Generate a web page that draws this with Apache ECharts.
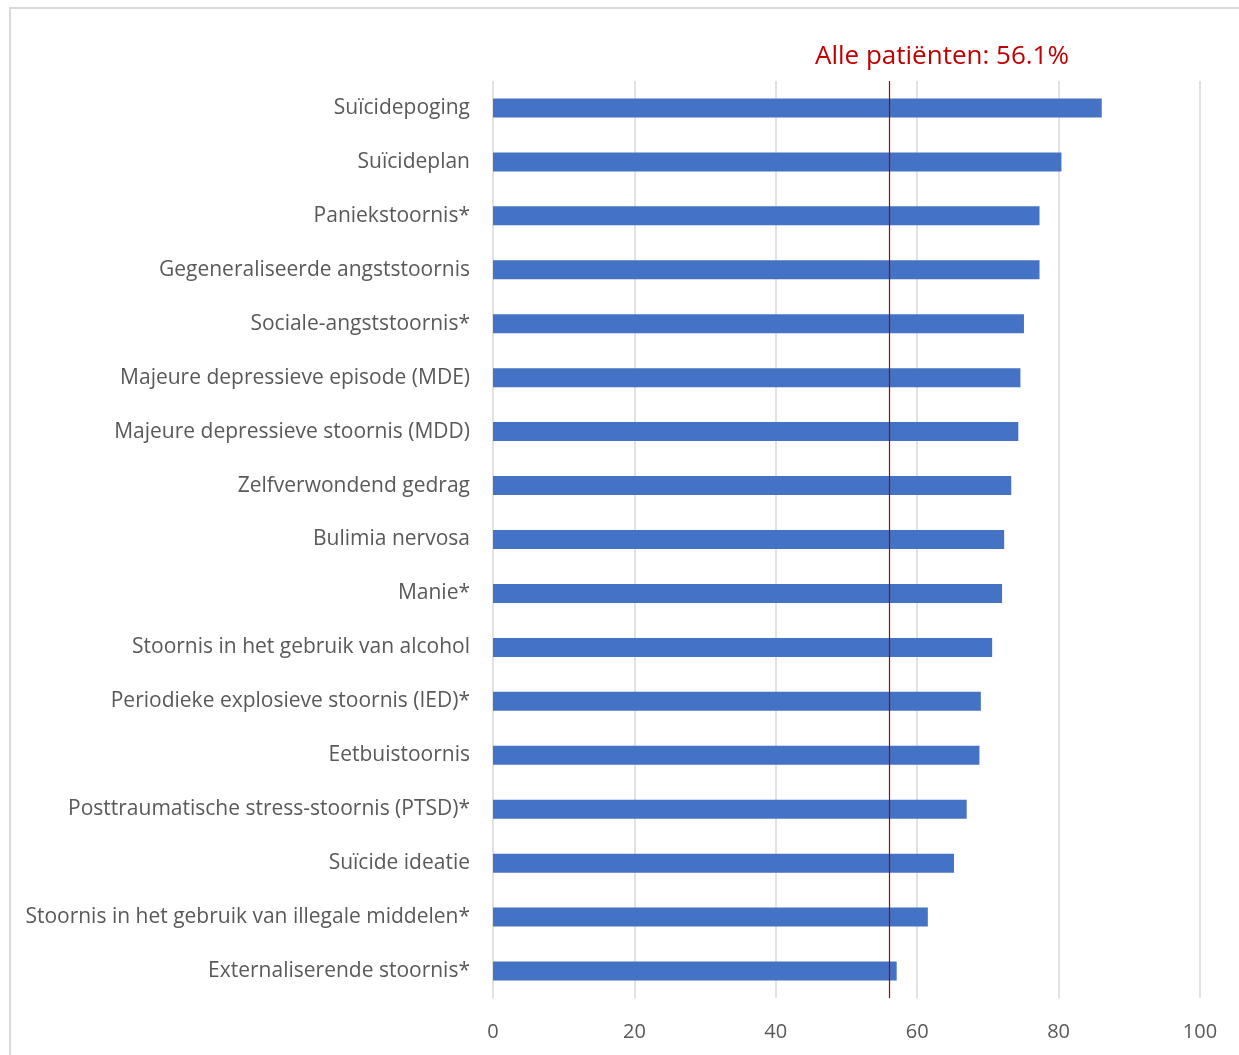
<!DOCTYPE html>
<html>
<head>
<meta charset="utf-8">
<script src="https://cdn.jsdelivr.net/npm/echarts@6/dist/echarts.min.js"></script>
<style>
  html, body { margin: 0; padding: 0; background: #fff; }
  #frame { position: absolute; left: 9px; top: 7px; width: 1300px; height: 1100px;
           border-left: 2px solid #d9d9d9; border-top: 2px solid #d9d9d9; box-sizing: border-box; }
  #chart { position: absolute; left: 0; top: 0; width: 1239px; height: 1055px; }
</style>
</head>
<body>
<div id="frame"></div>
<div id="chart"></div>
<script>
// Categories, top to bottom
const categories = [
  'Suïcidepoging',
  'Suïcideplan',
  'Paniekstoornis*',
  'Gegeneraliseerde angststoornis',
  'Sociale-angststoornis*',
  'Majeure depressieve episode (MDE)',
  'Majeure depressieve stoornis (MDD)',
  'Zelfverwondend gedrag',
  'Bulimia nervosa',
  'Manie*',
  'Stoornis in het gebruik van alcohol',
  'Periodieke explosieve stoornis (IED)*',
  'Eetbuistoornis',
  'Posttraumatische stress-stoornis (PTSD)*',
  'Suïcide ideatie',
  'Stoornis in het gebruik van illegale middelen*',
  'Externaliserende stoornis*'
];

// Percentage per category
const values = [86.1, 80.4, 77.3, 77.3, 75.1, 74.6, 74.3, 73.3, 72.3, 72.0, 70.6, 69.0, 68.8, 67.0, 65.2, 61.5, 57.1];

// Reference value for all patients
const allPatients = 56.1;
const allPatientsLabel = 'Alle patiënten: 56.1%';

// Value axis ticks
const axisMin = 0;
const axisMax = 100;
const axisStep = 20;

const chart = echarts.init(document.getElementById('chart'), null, { renderer: 'canvas' });
const font = '"Open Sans", Lato, sans-serif';

chart.setOption({
  animation: false,
  title: {
    text: allPatientsLabel,
    left: 810,
    top: 39,
    textStyle: { color: '#C00000', fontSize: 26, fontWeight: 'normal', fontFamily: font }
  },
  grid: { left: 493, right: 39, top: 81, bottom: 57, containLabel: false },
  xAxis: {
    type: 'value',
    min: axisMin,
    max: axisMax,
    interval: axisStep,
    axisLine: { show: false },
    axisTick: { show: false },
    splitLine: { show: true, lineStyle: { color: '#d9d9d9', width: 1.5 } },
    axisLabel: { color: '#595959', fontSize: 20, fontFamily: font, margin: 24 }
  },
  yAxis: {
    type: 'category',
    data: categories,
    inverse: true,
    axisLine: { show: false },
    axisTick: { show: false },
    axisLabel: { color: '#595959', fontSize: 21, fontFamily: font, margin: 23, padding: [5, 0, 0, 0] }
  },
  series: [{
    type: 'bar',
    data: values,
    barWidth: 19,
    itemStyle: { color: '#4472C4' },
    markLine: {
      silent: true,
      symbol: ['none', 'none'],
      label: { show: false },
      lineStyle: { color: '#B00000', width: 1.2, type: 'solid' },
      data: [{ xAxis: allPatients }]
    }
  }]
});
</script>
</body>
</html>
